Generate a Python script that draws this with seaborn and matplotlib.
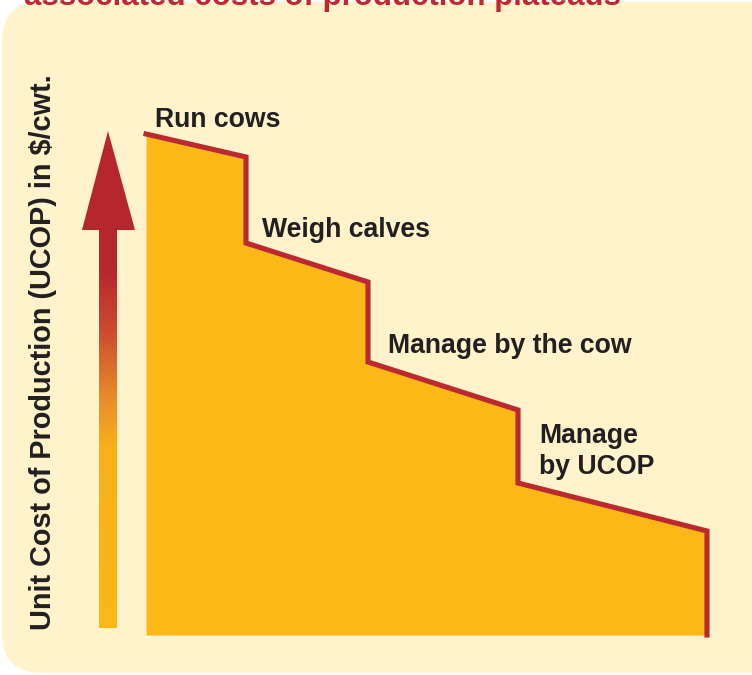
import numpy as np
import pandas as pd
import matplotlib
matplotlib.use("Agg")
import matplotlib.pyplot as plt
from matplotlib.patches import FancyBboxPatch, Polygon
from matplotlib.colors import LinearSegmentedColormap
import seaborn as sns

# ---------------- data ----------------
stages = ["Run cows", "Weigh calves", "Manage by the cow", "Manage\nby UCOP"]
stage_start = [0, 100, 222, 372]      # management intensity (relative)
stage_end = [100, 222, 372, 561]
ucop_start = [501, 392, 273, 152]     # unit cost at start of plateau (relative)
ucop_end = [478, 353, 225, 104]       # unit cost at end of plateau
title = "associated costs of production plateaus"
ylabel = "Unit Cost of Production (UCOP) in $/cwt."

# ---------------- style ----------------
sns.set_theme(style="white")
plt.rcParams["font.family"] = ["Liberation Sans", "DejaVu Sans"]
plt.rcParams["font.weight"] = "bold"

W, H, DPI = 752, 675, 100
PANEL = "#FEF3CA"
FILL = "#FBB817"
RED = "#BC2931"
DARK = "#231F20"

fig = plt.figure(figsize=(W / DPI, H / DPI), dpi=DPI)
fig.patch.set_facecolor("white")

# decoration layer in pixel space
deco = fig.add_axes([0, 0, 1, 1], zorder=0)
deco.axis("off")

panel = FancyBboxPatch((2, 2), 790, 671,
                       boxstyle="round,pad=0,rounding_size=40",
                       facecolor=PANEL, edgecolor="none", zorder=0)
deco.add_patch(panel)

deco.text(24, 5.0, title, color="#C1272D", fontsize=22.5, fontweight="bold",
          ha="left", va="baseline", zorder=5)

deco.text(43, 352, ylabel, color=DARK, fontsize=20.8, fontweight="bold",
          rotation=90, ha="center", va="center", zorder=5)

# gradient arrow
cmap = LinearSegmentedColormap.from_list(
    "arrow",
    [(0.0, "#FBB817"), (0.45, "#F8B11A"), (0.57, "#E98E2A"),
     (0.75, "#CC4A30"), (0.9, "#B5272D"), (1.0, "#B5272D")])
grad = np.linspace(0, 1, 256).reshape(-1, 1)
deco.imshow(grad, cmap=cmap, aspect="auto", origin="lower",
            extent=[99, 117, 628, 229], zorder=2)
head = Polygon([(82, 230), (135, 230), (108, 131)], closed=True,
               facecolor="#B5272D", edgecolor="none", zorder=3)
deco.add_patch(head)
deco.set_xlim(0, W)
deco.set_ylim(H, 0)

# ---------------- chart ----------------
ax = fig.add_axes([146 / W, 40 / H, 561 / W, 501 / H], zorder=2)
ax.patch.set_alpha(0)

xs, ys = [], []
for s0, s1, c0, c1 in zip(stage_start, stage_end, ucop_start, ucop_end):
    xs += [s0, s1]
    ys += [c0, c1]
xs.append(stage_end[-1])
ys.append(0)
path = pd.DataFrame({"intensity": xs, "ucop": ys})

ax.fill_between(path["intensity"], path["ucop"], 0, color=FILL, lw=0, zorder=1)
sns.lineplot(data=path, x="intensity", y="ucop", sort=False, estimator=None,
             color=RED, lw=3.7, ax=ax, zorder=2, clip_on=False,
             solid_joinstyle="miter", solid_capstyle="projecting")

# offsets (pixels) of each label's last-line baseline from its plateau start
offsets = [(9, 7), (16, 6), (20, 9), (21, 9)]
for name, s0, c0, off in zip(stages, stage_start, ucop_start, offsets):
    ax.annotate(name, xy=(s0, c0), xytext=off, textcoords="offset pixels",
                ha="left", va="baseline", fontsize=19.2, fontweight="bold",
                color=DARK, annotation_clip=False, linespacing=1.25)

ax.set_xlim(0, stage_end[-1])
ax.set_ylim(0, ucop_start[0])
ax.axis("off")

fig.savefig("out.png", dpi=DPI, facecolor=fig.get_facecolor())
